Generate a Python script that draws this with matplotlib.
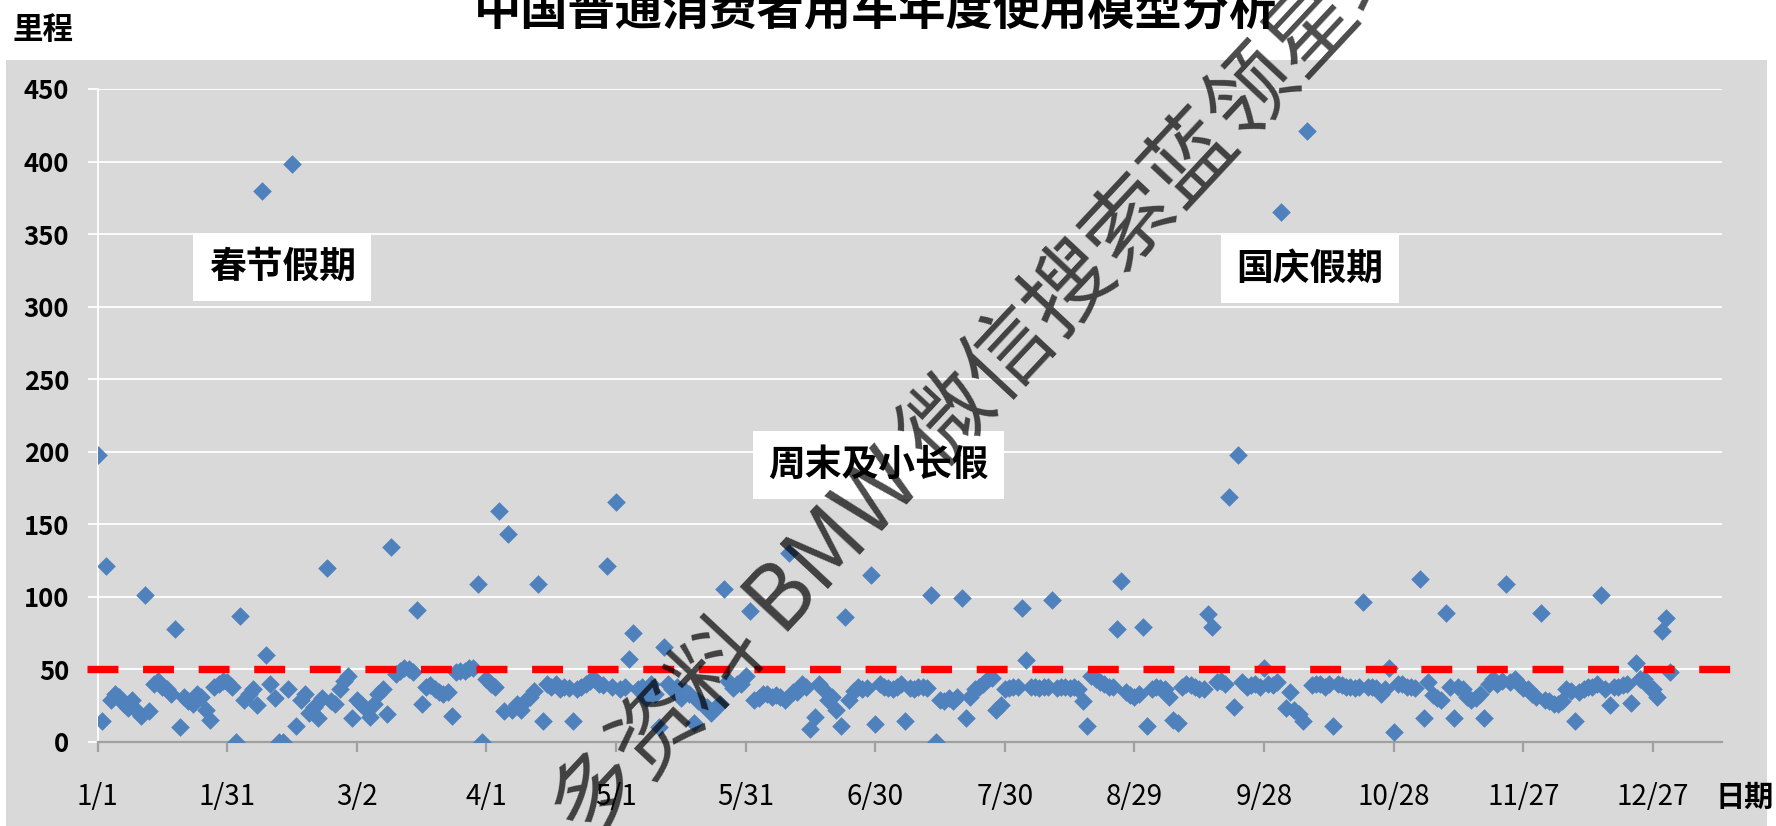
import matplotlib
matplotlib.use('Agg')
import matplotlib.pyplot as plt
from matplotlib.patches import Rectangle

plt.rcParams['font.family'] = ['Noto Sans CJK SC', 'DejaVu Sans']

# ---------------- data ----------------
title = "中国普通消费者用车年度使用模型分析"
y_label = "里程"
x_label = "日期"

# daily mileage, day 0 = 1/1
mileage = [
    198, 14, 121, 29, 33, 31, 26, 23, 29, 22,
    18, 101, 21, 40, 42, 38, 36, 33, 78, 10,
    31, 28, 26, 33, 31, 22, 15, 38, 40, 42,
    41, 38, 0, 87, 29, 33, 36, 25, 380, 60,
    40, 30, 0, 0, 36, 398, 11, 29, 33, 20,
    24, 16, 30, 120, 28, 26, 36, 42, 45, 16,
    29, 26, 23, 17, 26, 33, 36, 19, 134, 47,
    49, 51, 50, 48, 91, 26, 38, 39, 36, 34,
    33, 34, 18, 48, 49, 49, 51, 51, 109, 0,
    43, 40, 38, 159, 21, 143, 22, 26, 22, 28,
    31, 35, 109, 14, 40, 38, 40, 36, 38, 37,
    14, 36, 38, 40, 42, 43, 40, 39, 121, 38,
    165, 36, 38, 57, 75, 36, 38, 30, 40, 33,
    10, 65, 40, 36, 38, 30, 35, 33, 13, 28,
    26, 24, 20, 23, 26, 105, 42, 37, 40, 40,
    45, 90, 29, 30, 33, 33, 31, 32, 31, 29,
    130, 34, 34, 40, 38, 9, 17, 40, 36, 29,
    31, 22, 11, 86, 29, 35, 38, 36, 37, 115,
    12, 40, 38, 37, 36, 38, 40, 14, 37, 36,
    38, 38, 37, 101, 0, 29, 28, 30, 28, 31,
    99, 16, 31, 36, 38, 40, 43, 44, 22, 25,
    36, 37, 38, 38, 92, 56, 38, 38, 37, 38,
    38, 98, 37, 38, 38, 37, 38, 36, 28, 11,
    45, 43, 41, 40, 38, 38, 78, 111, 34, 32,
    31, 33, 79, 11, 36, 38, 37, 36, 31, 15,
    13, 38, 40, 39, 38, 36, 36, 88, 79, 41,
    42, 40, 169, 24, 198, 41, 38, 39, 40, 38,
    51, 40, 39, 41, 365, 23, 34, 22, 19, 14,
    421, 39, 40, 40, 38, 40, 11, 40, 39, 38,
    38, 37, 38, 96, 38, 38, 37, 33, 36, 51,
    7, 40, 40, 38, 38, 37, 112, 16, 41, 32,
    30, 29, 89, 38, 16, 38, 36, 31, 29, 30,
    33, 16, 40, 43, 40, 42, 109, 41, 43, 40,
    37, 36, 33, 31, 89, 29, 28, 26, 26, 28,
    36, 35, 14, 34, 36, 38, 38, 40, 101, 36,
    25, 38, 38, 39, 40, 27, 54, 43, 43, 38,
    36, 31, 76, 85, 48,
]
days = list(range(len(mileage)))

tick_days = [0, 30, 60, 90, 120, 150, 180, 210, 240, 270, 300, 330, 360]
tick_labels = ["1/1", "1/31", "3/2", "4/1", "5/1", "5/31", "6/30",
               "7/30", "8/29", "9/28", "10/28", "11/27", "12/27"]
y_ticks = [0, 50, 100, 150, 200, 250, 300, 350, 400, 450]
threshold = 50

notes = ["春节假期", "周末及小长假", "国庆假期"]
note_x = [42.7, 180.8, 280.6]
note_y = [327, 190.5, 326]

watermark = "多资料 BMW 微信搜索蓝领星球"

# ---------------- figure ----------------
W, H = 1776, 826
fig = plt.figure(figsize=(W / 100, H / 100), dpi=100)
fig.patch.set_facecolor('white')
fig.patches.append(Rectangle((6 / W, 0), (1767 - 6) / W, (826 - 60) / H,
                             transform=fig.transFigure, facecolor='#D9D9D9',
                             edgecolor='none', zorder=-1))

ax = fig.add_axes([97.6 / W, 84.3 / H, (1722 - 97.6) / W, (741.7 - 89) / H])
ax.set_facecolor('#D9D9D9')
ax.set_xlim(0, 376)
ax.set_ylim(0, 450)

ax.yaxis.grid(True, color='white', linewidth=1.3)
ax.set_axisbelow(True)

ax.scatter(days, mileage, marker='D', s=90, color='#4F81BD', linewidths=0, zorder=3)

ax.axhline(threshold, xmin=-0.0066, xmax=1.013, color='#FF0000', lw=5.3,
           dashes=(4.2, 3.35), clip_on=False, zorder=4)

for s in ['top', 'right']:
    ax.spines[s].set_visible(False)
ax.spines['left'].set_color('white')
ax.spines['left'].set_linewidth(1.3)
ax.spines['bottom'].set_color('#A0A0A0')
ax.spines['bottom'].set_linewidth(1.6)

ax.set_yticks(y_ticks)
ax.set_yticklabels([str(v) for v in y_ticks], fontsize=18.5, fontweight='bold')
ax.tick_params(axis='y', direction='out', length=6.9, width=1.3, color='white', pad=13.5)

ax.set_xticks(tick_days)
ax.set_xticklabels(tick_labels, fontsize=20)
ax.tick_params(axis='x', direction='out', length=7.2, width=1.6, color='#A0A0A0', pad=22)

for s, x, y in zip(notes, note_x, note_y):
    ax.text(x, y, s, fontsize=26.5, fontweight='bold', ha='center', va='center',
            bbox=dict(boxstyle='square,pad=0.42', fc='white', ec='none'), zorder=5)

fig.text(875 / W, 1 - 11 / H, title, fontsize=34, fontweight='bold',
         ha='center', va='center')
fig.text(43 / W, 1 - 30 / H, y_label, fontsize=22, fontweight='bold',
         ha='center', va='center')
fig.text(1745 / W, 1 - 797 / H, x_label, fontsize=21, fontweight='bold',
         ha='center', va='center')

fig.text(569 / W, (826 - 830) / H, watermark, fontsize=64, color='black', alpha=0.7,
         rotation=47, rotation_mode='anchor', ha='left', va='center', zorder=10)

fig.savefig('out.png', dpi=100)
